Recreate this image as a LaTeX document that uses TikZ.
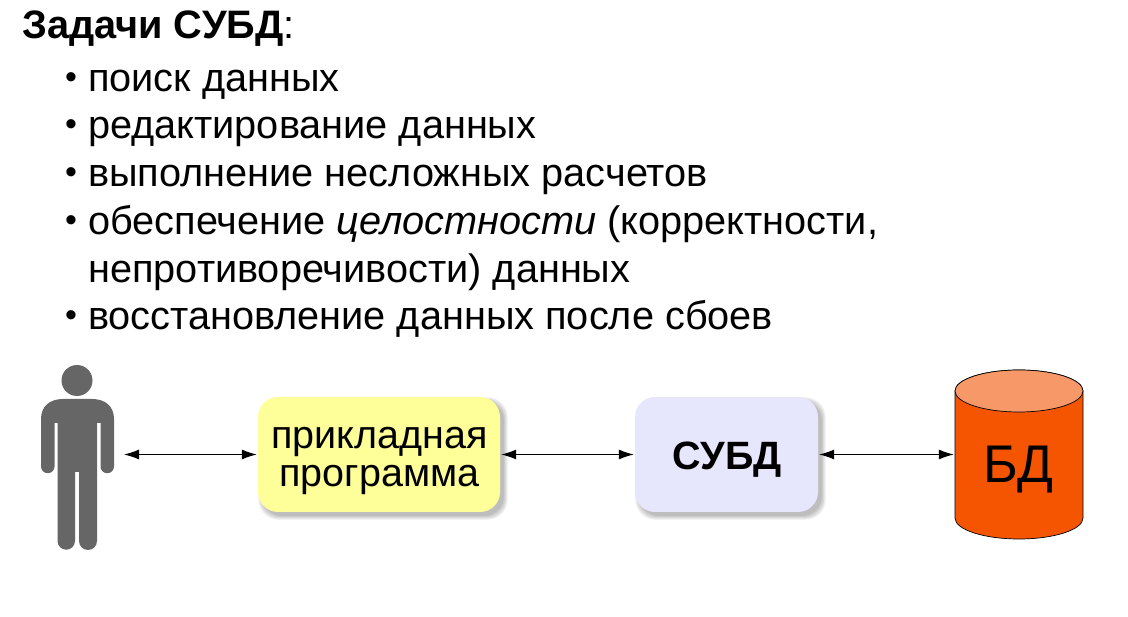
\documentclass[tikz,border=0pt]{standalone}
\usepackage{fontspec}
\setmainfont{Liberation Sans}
\usetikzlibrary{arrows.meta}
\definecolor{appfill}{HTML}{FFFF99}
\definecolor{dbmsfill}{HTML}{E6E6FC}
\definecolor{dbside}{HTML}{F55500}
\definecolor{dbtop}{HTML}{F79868}
\definecolor{persongray}{HTML}{666666}
\tikzset{
  listtext/.style={anchor=base west,inner sep=0pt,font=\fontsize{39.7}{39.7}\selectfont},
  bullettext/.style={anchor=base west,inner sep=0pt,font=\fontsize{34}{34}\selectfont},
  titletext/.style={anchor=base west,inner sep=0pt,font=\fontsize{39.7}{39.7}\selectfont},
  boxnode/.style={rounded corners=20pt,minimum height=115pt,inner sep=0pt},
  boxlabel/.style={inner sep=0pt,align=center,font=\fontsize{39.5}{38}\selectfont},
  boxshadow/.style={rounded corners=20pt,fill=black,fill opacity=0.07},
  biarrow/.style={{Latex[length=15pt,width=10pt]}-{Latex[length=15pt,width=10pt]},line width=1pt,black,shorten >=1pt,shorten <=1pt},
  ghost/.style={inner sep=0pt,draw=none},
}
\newcommand{\softshadow}[4]{%
  \foreach \d in {0,1.2,2.4,3.6}{
    \fill[boxshadow] (#1+4-\d,#2+4-\d) rectangle (#3+4+\d,#4+4+\d);
  }}
\begin{document}
\begin{tikzpicture}[x=1pt,y=-1pt]
\useasboundingbox (0,0) rectangle (1128,617);
\node[titletext] (title) at (22,39) {\textbf{Задачи СУБД}:};
\foreach \n/\yy/\txt in {b1/91.5/поиск данных,b2/139/редактирование данных,b3/186.5/выполнение несложных расчетов,b6/329.5/восстановление данных после сбоев}{
  \node[bullettext] (\n) at (65,\yy-3) {•};
  \node[listtext] (\n t) at (88,\yy) {\txt};
}
\node[bullettext] (b4) at (65,231.5) {•};
\node[listtext] (b4t) at (88,234.5) {обеспечение \textit{целостности} (корректности,};
\node[listtext] (b5t) at (88,282.5) {непротиворечивости) данных};
% person
\fill[persongray] (77,380.5) circle (15.5);
\fill[persongray]
  (41,419) .. controls (41,406) and (50,399) .. (63,399) -- (92,399)
  .. controls (105,399) and (114,406) .. (114,419)
  -- (114,466.5) arc[start angle=0,end angle=180,radius=6.75] -- (100.5,423) -- (97,423)
  -- (97,541) arc[start angle=0,end angle=180,radius=9] -- (79,472) -- (75,472)
  -- (75,541) arc[start angle=0,end angle=180,radius=8.75] -- (57.5,423) -- (54.5,423)
  -- (54.5,466.5) arc[start angle=0,end angle=180,radius=6.75] -- cycle;
\node[ghost,minimum width=73pt,minimum height=185pt] (person) at (77.5,458) {};
\coordinate (personport) at (123,454.5);
% boxes
\softshadow{258}{397}{500}{512}
\node[boxnode,fill=appfill,minimum width=242pt] (app) at (379,454.5) {};
\node[boxlabel] (applabel) at (379.5,460.5) {прикладная\\программа};
\softshadow{635}{397}{818}{512}
\node[boxnode,fill=dbmsfill,minimum width=183pt] (dbms) at (726.5,454.5) {};
\node[boxlabel] (dbmslabel) at (727,459.5) {\textbf{СУБД}};
% cylinder
\path[fill=dbside,draw=black,line width=0.7pt] (955,391) -- (955,518)
  arc[start angle=180,end angle=360,x radius=64,y radius=-21] -- (1083,391)
  arc[start angle=0,end angle=180,x radius=64,y radius=-21] -- cycle;
\path[fill=dbtop,draw=black,line width=0.7pt] (1019,391) ellipse[x radius=64,y radius=21];
\node[ghost,minimum width=128pt,minimum height=169pt] (db) at (1019,454.5) {};
\node[inner sep=0pt,anchor=base,font=\fontsize{53}{53}\selectfont] (dblabel) at (1018.5,483) {БД};
% connectors
\draw[biarrow] (personport) -- (app.west);
\draw[biarrow] (app.east) -- (dbms.west);
\draw[biarrow] (dbms.east) -- (db.west);
\end{tikzpicture}
\end{document}
